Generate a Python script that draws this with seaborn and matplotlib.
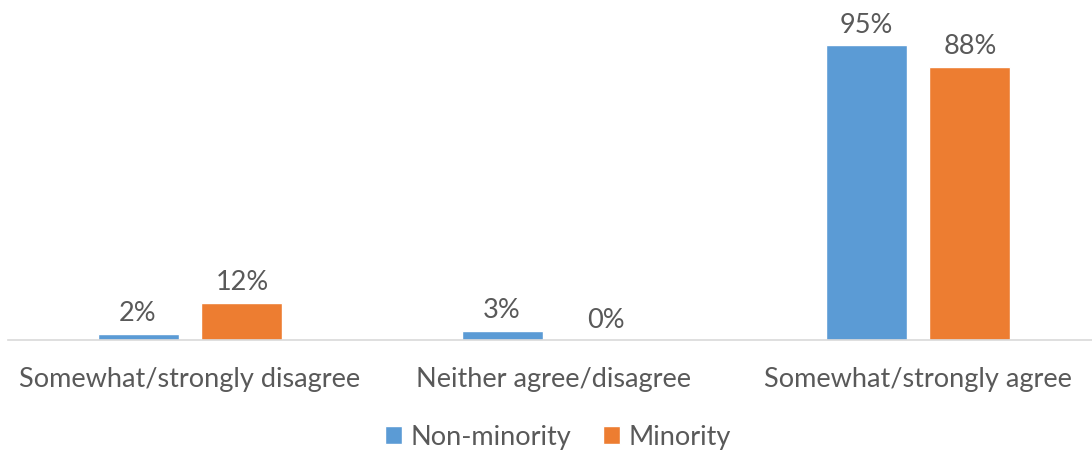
import matplotlib
matplotlib.use("Agg")
import matplotlib.pyplot as plt
import seaborn as sns
import pandas as pd
from matplotlib.patches import Patch

categories = ["Somewhat/strongly disagree", "Neither agree/disagree", "Somewhat/strongly agree"]
series_names = ["Non-minority", "Minority"]
non_minority = [2, 3, 95]
minority = [12, 0, 88]
colors = ["#5B9BD5", "#ED7D31"]

df = pd.DataFrame({
    "category": categories * 2,
    "group": [series_names[0]] * 3 + [series_names[1]] * 3,
    "value": non_minority + minority,
})

sns.set_theme(style="white")
plt.rcParams['font.family'] = ['Lato', 'DejaVu Sans']
text_color = "#595959"

W, H = 1092, 456
fig = plt.figure(figsize=(W / 100, H / 100), dpi=100)
ax_left = 8 / W
ax_w = (1092 - 8) / W
ax_bottom = (H - 341) / H
ax_h = 310.5 / H
ax = fig.add_axes([ax_left, ax_bottom, ax_w, ax_h])

sns.barplot(data=df, x="category", y="value", hue="group", order=categories,
            hue_order=series_names, palette=colors, width=0.571, gap=0.221,
            ax=ax, legend=False, saturation=1)

ax.set_ylim(0, 100)
ax.set_xlim(-0.5, -0.5 + 1084 / 364)
for c in ax.containers:
    ax.bar_label(c, labels=[f"{v:.0f}%" for v in c.datavalues], padding=6,
                 fontsize=19.5, color=text_color)

for s in ["top", "right", "left"]:
    ax.spines[s].set_visible(False)
ax.spines["bottom"].set_color("#D9D9D9")
ax.spines["bottom"].set_linewidth(1.2)
ax.set_yticks([])
ax.set_xlabel("")
ax.set_ylabel("")
ax.tick_params(axis="x", length=0, pad=19, labelsize=19.5, labelcolor=text_color)

handles = [Patch(facecolor=colors[i], label=series_names[i]) for i in range(2)]
fig.legend(handles=handles, loc="center", bbox_to_anchor=(0.511, 1 - 438 / H), ncol=2,
           frameon=False, fontsize=19.5, handlelength=0.63, handleheight=0.63,
           handletextpad=0.33, columnspacing=1.15, labelcolor=text_color)

fig.savefig("out.png", dpi=100)
